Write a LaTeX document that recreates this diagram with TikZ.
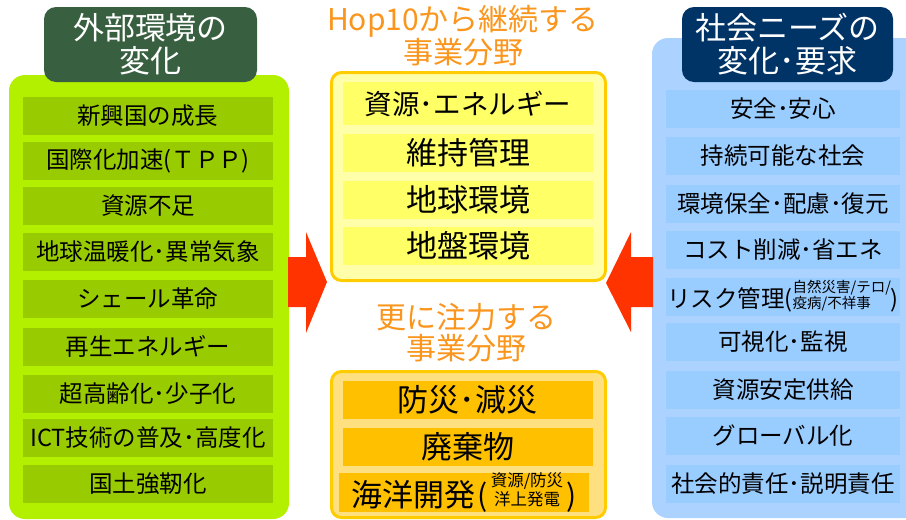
\documentclass[tikz,border=0pt]{standalone}
\usepackage{fontspec}
\setmainfont{Noto Sans CJK JP}
\definecolor{gPanel}{RGB}{178,240,0}
\definecolor{gItem}{RGB}{153,204,0}
\definecolor{gTitle}{RGB}{56,96,64}
\definecolor{yPanel}{RGB}{255,255,170}
\definecolor{yItem}{RGB}{255,255,102}
\definecolor{goldLine}{RGB}{255,204,0}
\definecolor{oPanel}{RGB}{255,224,128}
\definecolor{oItem}{RGB}{255,192,0}
\definecolor{bPanel}{RGB}{172,210,255}
\definecolor{bItem}{RGB}{153,204,255}
\definecolor{navyT}{RGB}{0,51,102}
\definecolor{orangeT}{RGB}{250,150,30}
\definecolor{arrowRed}{RGB}{255,51,0}
\tikzset{
  base/.style={inner sep=0pt, outer sep=0pt, anchor=center},
  litem/.style={base, fill=gItem, minimum width=250pt, minimum height=38pt, font=\fontsize{23.5}{26}\selectfont},
  citem/.style={base, fill=yItem, minimum width=250pt, minimum height=38pt, font=\fontsize{31}{33}\selectfont},
  oitem/.style={base, fill=oItem, minimum width=250pt, minimum height=38pt, font=\fontsize{31}{33}\selectfont},
  ritem/.style={base, fill=bItem, minimum width=234pt, minimum height=38pt, font=\fontsize{23.5}{26}\selectfont},
  titlebox/.style={base, rounded corners=12pt, minimum height=75pt, text=white, align=center, font=\fontsize{31}{33}\selectfont},
  otitle/.style={base, text=orangeT, align=center, font=\fontsize{30}{31}\selectfont},
  panelshape/.style={rounded corners=16pt},
  framebox/.style={draw=goldLine, line width=3pt, rounded corners=10pt},
  bigarrow/.style={fill=arrowRed},
}
\begin{document}
\begin{tikzpicture}[x=1pt,y=-1pt]
\useasboundingbox (0,0) rectangle (906,520);
\clip (0,0) rectangle (906,520);
% panels
\fill[gPanel, panelshape] (9,75) rectangle (289,519);
\fill[bPanel, panelshape] (652,38) rectangle (940,518);
\draw[framebox, fill=yPanel] (331.5,72.5) rectangle (605.5,280.5);
\draw[framebox, fill=oPanel] (331.5,371.5) rectangle (605.5,517.5);
% arrows
\fill[bigarrow] (288,257) -- (306,257) -- (306,232) -- (327,282) -- (306,333) -- (306,307) -- (288,307) -- cycle;
\fill[bigarrow] (653,257) -- (631,257) -- (631,232) -- (606,283) -- (631,332) -- (631,307) -- (653,307) -- cycle;
% title boxes
\node[titlebox, fill=gTitle, minimum width=213pt] (ltitle) at (150.5,44.5) {外部環境の\\変化};
\node[titlebox, fill=navyT, minimum width=211pt] (rtitle) at (787.5,44.5) {社会ニーズの\\変化･要求};
\node[otitle] (ctitle1) at (463,36) {Hop10から継続する\\事業分野};
\node[otitle] (ctitle2) at (466,332.5) {更に注力する\\事業分野};
% left items
\node[litem] (l1) at (148,116) {新興国の成長};
\node[litem] (l2) at (148,161) {国際化加速(ＴＰＰ)};
\node[litem] (l3) at (148,205.5) {資源不足};
\node[litem] (l4) at (148,252) {地球温暖化･異常気象};
\node[litem] (l5) at (148,298.5) {シェール革命};
\node[litem] (l6) at (148,346.5) {再生エネルギー};
\node[litem] (l7) at (148,393.5) {超高齢化･少子化};
\node[litem] (l8) at (148,437.5) {ICT技術の普及･高度化};
\node[litem] (l9) at (148,484) {国土強靭化};
% center items
\node[citem, minimum height=43pt, font=\fontsize{27.5}{29}\selectfont] (c1) at (468,103.5) {資源･エネルギー};
\node[citem] (c2) at (468,153) {維持管理};
\node[citem] (c3) at (468,200) {地球環境};
\node[citem] (c4) at (468,246) {地盤環境};
\node[oitem] (o1) at (467.5,399.5) {防災･減災};
\node[oitem] (o2) at (467.5,447) {廃棄物};
\node[oitem, minimum height=39pt] (o3) at (464,492.5) {海洋開発\hspace{2pt}{\fontsize{30}{30}\selectfont(}\hspace{3pt}\raisebox{1.5pt}{\fontsize{16.5}{15.5}\selectfont\begin{tabular}[b]{@{}c@{}}資源/防災\\洋上発電\end{tabular}}\hspace{3pt}{\fontsize{30}{30}\selectfont)}};
% right items
\node[ritem] (r1) at (783,109) {安全･安心};
\node[ritem] (r2) at (783,156) {持続可能な社会};
\node[ritem] (r3) at (783,204) {環境保全･配慮･復元};
\node[ritem] (r4) at (783,250) {コスト削減･省エネ};
\node[ritem] (r5) at (783,296.5) {リスク管理(\raisebox{-1.5pt}{\fontsize{14.5}{15}\selectfont\begin{tabular}[b]{@{}l@{}}自然災害/テロ/\\疫病/不祥事\end{tabular}})};
\node[ritem] (r6) at (783,342) {可視化･監視};
\node[ritem] (r7) at (783,389.5) {資源安定供給};
\node[ritem] (r8) at (783,436) {グローバル化};
\node[ritem] (r9) at (783,484) {社会的責任･説明責任};
\end{tikzpicture}
\end{document}
